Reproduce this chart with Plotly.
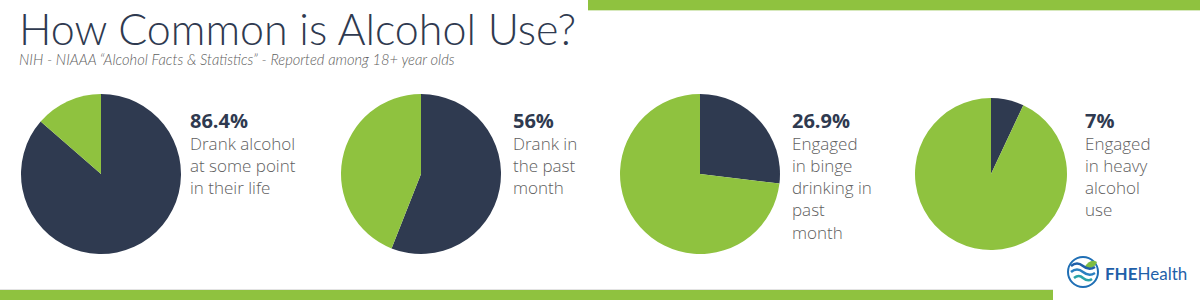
import plotly.graph_objects as go

# ---- data ----
pct_labels = ["86.4%", "56%", "26.9%", "7%"]
pct_values = [86.4, 56.0, 26.9, 7.0]
descriptions = [
    ["Drank alcohol", "at some point", "in their life"],
    ["Drank in", "the past", "month"],
    ["Engaged", "in binge", "drinking in", "past", "month"],
    ["Engaged", "in heavy", "alcohol", "use"],
]
title_text = "How Common is Alcohol Use?"
subtitle_text = "NIH - NIAAA \u201cAlcohol Facts & Statistics\u201d - Reported among 18+ year olds"

# ---- style ----
W, H = 1200, 300
NAVY = "#2f3a50"
GREEN = "#8fc23f"
GRAY = "#606060"

pie_centers = [(101, 174), (421, 174), (700, 174), (991, 174)]
pie_radii = [80, 80, 80, 76]
text_x = [188, 511, 790, 1083]


def px(x):
    return x / W


def py(y):
    return 1 - y / H


fig = go.Figure()

for i, v in enumerate(pct_values):
    cx, cy = pie_centers[i]
    r = pie_radii[i]
    fig.add_trace(go.Pie(
        values=[v, 100 - v],
        labels=["Yes", "No"],
        marker=dict(colors=[NAVY, GREEN], line=dict(width=0)),
        sort=False,
        direction="clockwise",
        rotation=0,
        textinfo="none",
        hoverinfo="skip",
        showlegend=False,
        domain=dict(x=[px(cx - r), px(cx + r)], y=[py(cy + r), py(cy - r)]),
    ))

annotations = []
# title & subtitle in one block (subtitle sets the line spacing)
annotations.append(dict(
    text=("<span style='font-size:43px;font-weight:300;font-style:normal;color:%s'>%s</span>"
          "<br><span style='font-size:14.7px'>%s</span>") % (NAVY, title_text, subtitle_text),
    x=px(17), y=py(1), xref="paper", yref="paper",
    xanchor="left", yanchor="top", align="left", showarrow=False,
    font=dict(family="Lato", size=15.3, color=GRAY, style="italic", weight=300),
))

for i in range(4):
    block = ("<span style='font-size:20px;font-weight:700;color:%s'>%s</span><br>" % (NAVY, pct_labels[i])
             + "<br>".join(descriptions[i]))
    annotations.append(dict(
        text=block, x=px(text_x[i]), y=py(105),
        xref="paper", yref="paper", xanchor="left", yanchor="top", align="left",
        showarrow=False, font=dict(family="Open Sans", size=17, color=GRAY, weight=300),
    ))

# logo text
annotations.append(dict(
    text="<b>FHE</b>Health", x=px(1103), y=py(273), xref="paper", yref="paper",
    xanchor="left", yanchor="middle", showarrow=False,
    font=dict(family="Lato", size=17, color="#1f5fa9"),
))

shapes = [
    # top green bar
    dict(type="rect", xref="x", yref="y", x0=588, x1=1200, y0=0, y1=10,
         fillcolor=GREEN, line=dict(width=0), layer="below"),
    dict(type="line", xref="x", yref="y", x0=588, x1=1200, y0=10.5, y1=10.5,
         line=dict(color="#d7e9bd", width=1), layer="below"),
    # bottom green bar
    dict(type="rect", xref="x", yref="y", x0=0, x1=1053, y0=290, y1=300,
         fillcolor=GREEN, line=dict(width=0), layer="below"),
    dict(type="line", xref="x", yref="y", x0=0, x1=1053, y0=289.5, y1=289.5,
         line=dict(color="#e3e3e3", width=1), layer="below"),
    # logo icon
    dict(type="circle", xref="x", yref="y", x0=1068, x1=1098, y0=257, y1=287,
         line=dict(color="#1f6fb5", width=2), fillcolor="white"),
    dict(type="path", xref="x", yref="y",
         path="M 1084 268 Q 1090 258 1097 262 Q 1094 270 1084 268 Z",
         fillcolor="#7dbb42", line=dict(width=0)),
    dict(type="path", xref="x", yref="y",
         path="M 1071 266 Q 1077 261 1083 266 Q 1089 271 1095 267",
         line=dict(color="#1f5fa9", width=2.5)),
    dict(type="path", xref="x", yref="y",
         path="M 1071 272 Q 1077 267 1083 272 Q 1089 277 1095 273",
         line=dict(color="#2a7fc0", width=2.5)),
    dict(type="path", xref="x", yref="y",
         path="M 1074 278 Q 1079 274 1083 278 Q 1088 282 1092 279",
         line=dict(color="#2aa3a8", width=2.5)),
]

fig.update_layout(
    width=W, height=H,
    margin=dict(l=0, r=0, t=0, b=0),
    paper_bgcolor="white", plot_bgcolor="rgba(0,0,0,0)",
    xaxis=dict(range=[0, W], visible=False, fixedrange=True, domain=[0, 1]),
    yaxis=dict(range=[H, 0], visible=False, fixedrange=True, domain=[0, 1]),
    annotations=annotations,
    shapes=shapes,
)

fig.write_html("out.html", config={"displayModeBar": False})
